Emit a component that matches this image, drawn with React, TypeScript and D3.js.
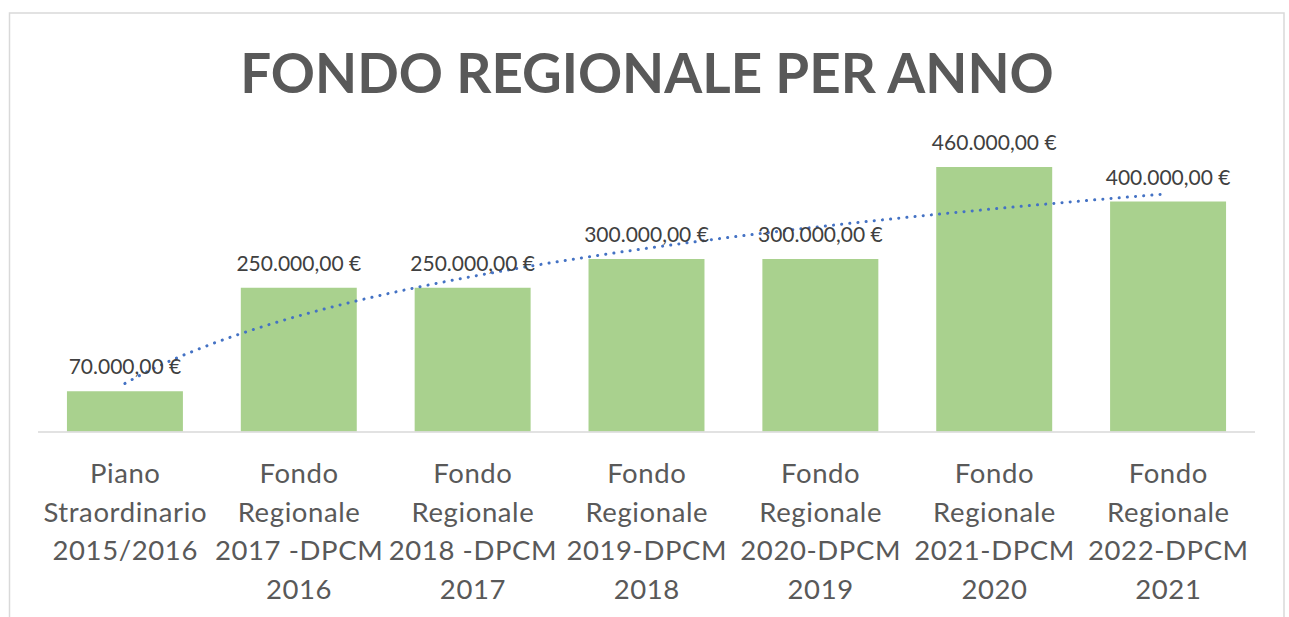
import React, { useEffect, useRef } from "react";
import * as d3 from "d3";

// chart data
const categories = [
  ["Piano", "Straordinario", "2015/2016"],
  ["Fondo", "Regionale", "2017 -DPCM", "2016"],
  ["Fondo", "Regionale", "2018 -DPCM", "2017"],
  ["Fondo", "Regionale", "2019-DPCM", "2018"],
  ["Fondo", "Regionale", "2020-DPCM", "2019"],
  ["Fondo", "Regionale", "2021-DPCM", "2020"],
  ["Fondo", "Regionale", "2022-DPCM", "2021"],
];
const values = [70000, 250000, 250000, 300000, 300000, 460000, 400000];
const title = "FONDO REGIONALE PER ANNO";

const W = 1289;
const H = 617;
const FONT = "Lato, 'Open Sans', sans-serif";

const fmt = (v: number) => {
  const s = d3.format(",.2f")(v); // 70,000.00
  return s.replace(/,/g, "#").replace(".", ",").replace(/#/g, ".") + " €";
};

const App = () => {
  const ref = useRef<SVGSVGElement>(null);

  useEffect(() => {
    const svg = d3.select(ref.current);
    svg.selectAll("*").remove();

    // chart border
    svg
      .append("rect")
      .attr("x", 9.5)
      .attr("y", 13)
      .attr("width", 1274.5)
      .attr("height", 640)
      .attr("fill", "#fff")
      .attr("stroke", "#d9d9d9")
      .attr("stroke-width", 1.5);

    svg
      .append("text")
      .attr("x", 647)
      .attr("y", 93)
      .attr("text-anchor", "middle")
      .attr("font-family", FONT)
      .attr("font-weight", 700)
      .attr("font-size", 54.7)
      .attr("fill", "#595959")
      .text(title);

    const idx = values.map((d, i) => i);
    const x = d3
      .scaleBand<number>()
      .domain(idx)
      .range([38, 1255])
      .paddingInner(0.333)
      .paddingOuter(0.1665);
    const y = d3.scaleLinear().domain([0, 500000]).range([431.5, 144]);

    // bars
    svg
      .selectAll(".bar")
      .data(values)
      .join("rect")
      .attr("class", "bar")
      .attr("x", (d, i) => x(i)!)
      .attr("y", (d) => y(d))
      .attr("width", x.bandwidth())
      .attr("height", (d) => y(0) - y(d))
      .attr("fill", "#a9d18e");

    // baseline
    svg
      .append("line")
      .attr("x1", 38)
      .attr("x2", 1255)
      .attr("y1", y(0) + 0.5)
      .attr("y2", y(0) + 0.5)
      .attr("stroke", "#d9d9d9")
      .attr("stroke-width", 1.5);

    // logarithmic trendline (least squares on ln(x))
    const lx = values.map((d, i) => Math.log(i + 1));
    const mx = d3.mean(lx)!;
    const my = d3.mean(values)!;
    const b =
      d3.sum(lx, (l, i) => (l - mx) * (values[i] - my)) /
      d3.sum(lx, (l) => (l - mx) * (l - mx));
    const a = my - b * mx;
    const step = x.step();
    const x0 = x(0)! + x.bandwidth() / 2;
    const pts = d3.range(1, values.length + 0.001, 0.05);
    const line = d3
      .line<number>()
      .x((t) => x0 + (t - 1) * step)
      .y((t) => y(a + b * Math.log(t)));
    svg
      .append("path")
      .datum(pts)
      .attr("d", line)
      .attr("fill", "none")
      .attr("stroke", "#4472c4")
      .attr("stroke-width", 3)
      .attr("stroke-linecap", "round")
      .attr("stroke-dasharray", "0.1 8.1");

    // value labels
    svg
      .selectAll(".val")
      .data(values)
      .join("text")
      .attr("class", "val")
      .attr("x", (d, i) => x(i)! + x.bandwidth() / 2)
      .attr("y", (d) => y(d) - 17)
      .attr("text-anchor", "middle")
      .attr("font-family", FONT)
      .attr("font-size", 21)
      .attr("fill", "#404040")
      .text((d) => fmt(d));

    // category labels
    const cat = svg
      .selectAll(".cat")
      .data(categories)
      .join("text")
      .attr("class", "cat")
      .attr("text-anchor", "middle")
      .attr("font-family", FONT)
      .attr("font-size", 27.5)
      .attr("letter-spacing", 0.6)
      .attr("fill", "#595959");
    cat
      .selectAll("tspan")
      .data((d, i) => d.map((s) => ({ s, i })))
      .join("tspan")
      .attr("x", (d) => x(d.i)! + x.bandwidth() / 2 + 0.3)
      .attr("y", (d, j) => 483 + j * 38.7)
      .text((d) => d.s);
  }, []);

  return (
    <svg
      ref={ref}
      width={W}
      height={H}
      style={{ position: "absolute", left: 0, top: 0, background: "#fff" }}
    />
  );
};

export default App;
